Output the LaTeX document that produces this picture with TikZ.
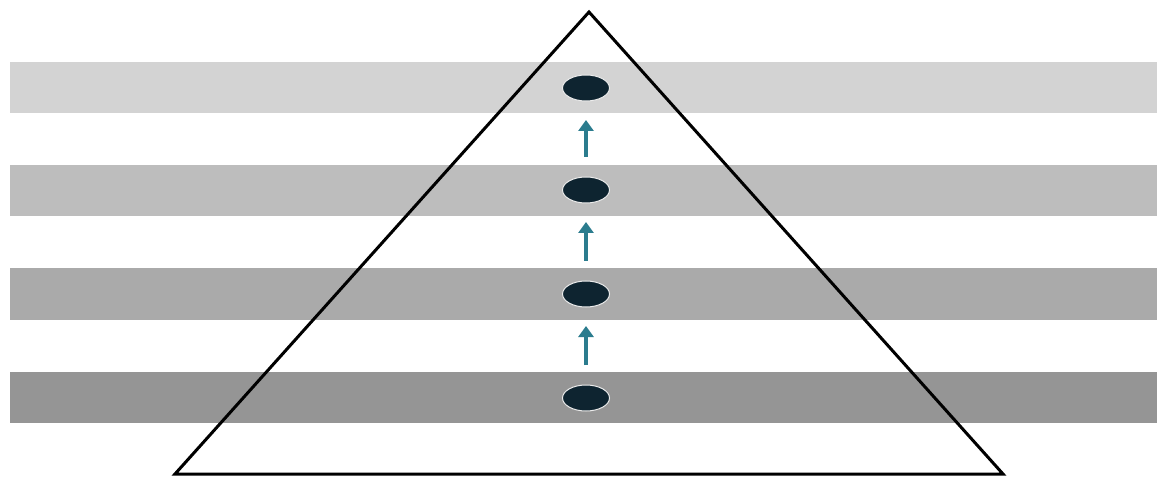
\documentclass[tikz,border=0pt]{standalone}
\usetikzlibrary{arrows.meta,shapes.geometric}
\definecolor{bandA}{HTML}{D3D3D3}
\definecolor{bandB}{HTML}{BDBDBD}
\definecolor{bandC}{HTML}{AAAAAA}
\definecolor{bandD}{HTML}{959595}
\definecolor{dotcol}{HTML}{0E2430}
\definecolor{arrcol}{HTML}{2B7C8E}
\begin{document}
\begin{tikzpicture}[x=1pt,y=-1pt,
  band/.style={draw=none},
  dot/.style={ellipse,fill=dotcol,draw=white!85!gray,line width=1pt,minimum width=47pt,minimum height=26pt,inner sep=0pt},
  uparrow/.style={draw=arrcol,line width=3.5pt,-{Triangle[width=15pt,length=11pt]},shorten <=19.5pt,shorten >=18.5pt}]
\useasboundingbox (0,0) rectangle (1159,478);
\fill[white] (0,0) rectangle (1159,478);
\fill[bandA] (10,62) rectangle (1157,113);
\fill[bandB] (10,165) rectangle (1157,216);
\fill[bandC] (10,268) rectangle (1157,320);
\fill[bandD] (10,372) rectangle (1157,423);
\draw[line width=3pt,line join=miter] (589,12) -- (1003,474) -- (175,474) -- cycle;
\node[dot] (e1) at (586,88) {};
\node[dot] (e2) at (586,190) {};
\node[dot] (e3) at (586,294) {};
\node[dot] (e4) at (586,398) {};
\draw[uparrow] (e2.north) -- (e1.south);
\draw[uparrow] (e3.north) -- (e2.south);
\draw[uparrow] (e4.north) -- (e3.south);
\end{tikzpicture}
\end{document}
